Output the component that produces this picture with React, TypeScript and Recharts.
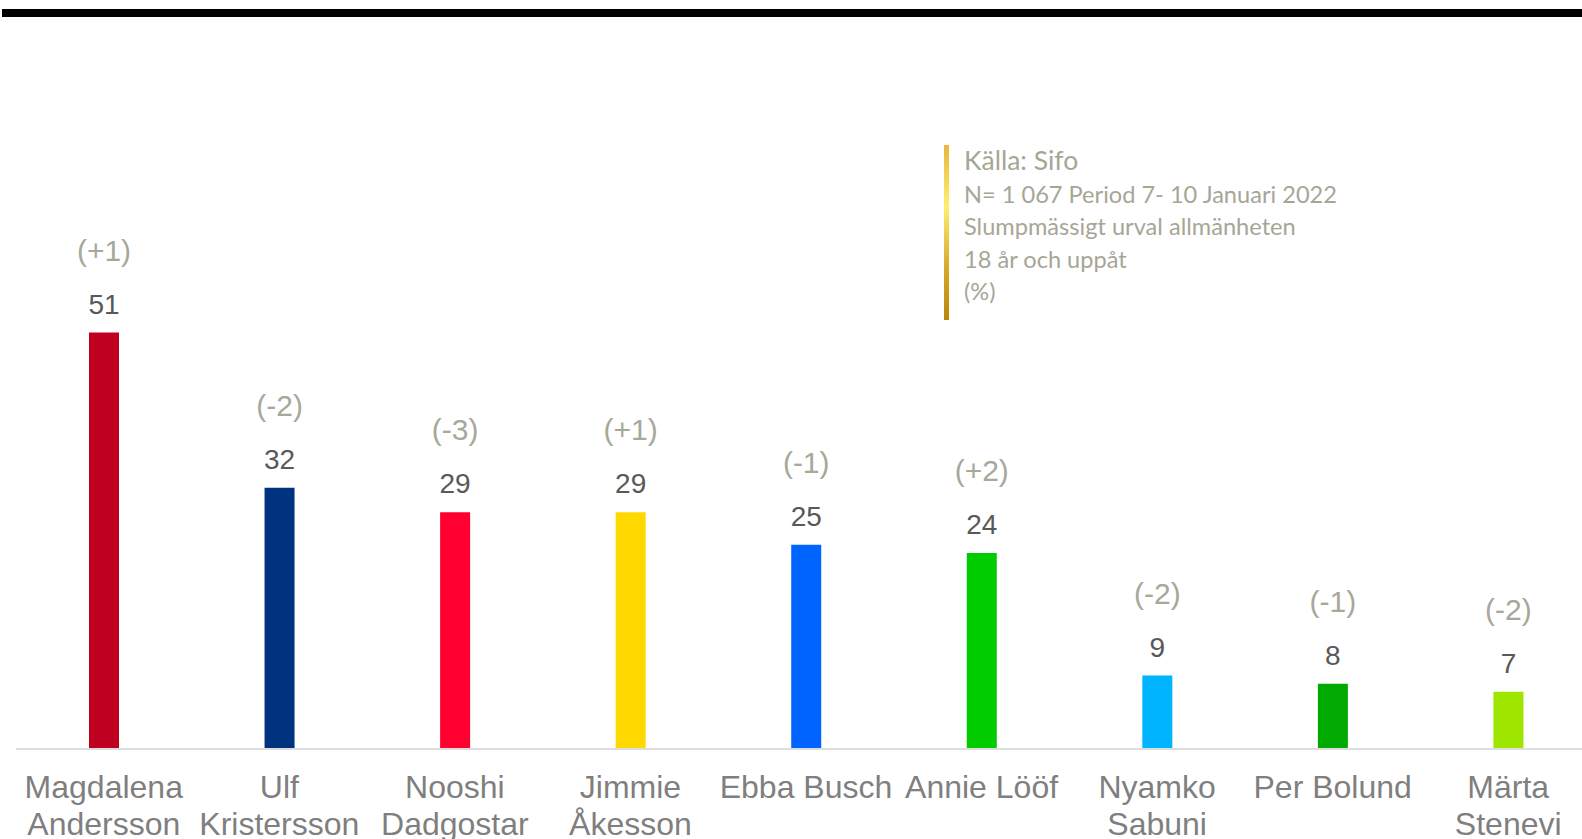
import React from 'react';
import { BarChart, Bar, XAxis, YAxis, Cell, LabelList } from 'recharts';

const names = [
  'Magdalena\nAndersson',
  'Ulf\nKristersson',
  'Nooshi\nDadgostar',
  'Jimmie\nÅkesson',
  'Ebba Busch',
  'Annie Lööf',
  'Nyamko\nSabuni',
  'Per Bolund',
  'Märta\nStenevi',
];
const confidence = [51, 32, 29, 29, 25, 24, 9, 8, 7];
const changes = ['(+1)', '(-2)', '(-3)', '(+1)', '(-1)', '(+2)', '(-2)', '(-1)', '(-2)'];
const colors = ['#C00020', '#00337F', '#FF0030', '#FFD800', '#0064FF', '#00CC00', '#00B4FF', '#00AA00', '#9EE600'];

const sourceLines = [
  'N= 1 067 Period 7- 10 Januari 2022',
  'Slumpmässigt urval allmänheten',
  '18 år och uppåt',
  '(%)',
];

const data = names.map((name, i) => ({ name, value: confidence[i], change: changes[i] }));

const ARIAL = '"Liberation Sans", Arial, sans-serif';

const NameTick = (props: any) => {
  const { x, y, payload } = props;
  const lines = String(payload.value).split('\n');
  return (
    <text x={x} y={y} textAnchor="middle" fill="#7F7F7F" fontFamily={ARIAL} fontSize={32}>
      {lines.map((l, i) => (
        <tspan key={i} x={x} y={y + 49 + i * 36.5}>
          {l}
        </tspan>
      ))}
    </text>
  );
};

const ValueLabel = (props: any) => {
  const { x, y, width, value } = props;
  return (
    <text x={x + width / 2} y={y - 19} textAnchor="middle" fill="#595959" fontFamily={ARIAL} fontSize={28}>
      {value}
    </text>
  );
};

const ChangeLabel = (props: any) => {
  const { x, y, width, value } = props;
  return (
    <text x={x + width / 2} y={y - 72} textAnchor="middle" fill="#A6A899" fontFamily={ARIAL} fontSize={30}>
      {value}
    </text>
  );
};

export default function App() {
  return (
    <div style={{ position: 'fixed', left: 0, top: 0, width: 1582, height: 839, overflow: 'hidden', background: '#fff' }}>
      <div style={{ position: 'absolute', left: 2, top: 9, width: 1580, height: 8, background: '#000' }} />
      <div style={{ position: 'absolute', left: 0, top: 0 }}>
        <BarChart width={1620} height={839} data={data} margin={{ top: 259, right: 24, left: 16, bottom: 0 }}>
          <XAxis
            dataKey="name"
            interval={0}
            tickLine={false}
            tickSize={0}
            tickMargin={0}
            height={90}
            axisLine={{ stroke: '#DDDDDD', strokeWidth: 2 }}
            tick={<NameTick />}
          />
          <YAxis hide domain={[0, 60]} />
          <Bar dataKey="value" barSize={30} isAnimationActive={false}>
            {data.map((d, i) => (
              <Cell key={d.name} fill={colors[i]} />
            ))}
            <LabelList dataKey="value" content={<ValueLabel />} />
            <LabelList dataKey="change" content={<ChangeLabel />} />
          </Bar>
        </BarChart>
      </div>
      <div
        style={{
          position: 'absolute',
          left: 944,
          top: 145,
          width: 5,
          height: 175,
          background: 'linear-gradient(to bottom, #E9B53C 0%, #FFEE70 35%, #D9A82A 70%, #B8860B 100%)',
        }}
      />
      <div
        style={{
          position: 'absolute',
          left: 964,
          top: 142,
          fontFamily: 'Lato, "Open Sans", sans-serif',
          color: '#A6A696',
          whiteSpace: 'nowrap',
        }}
      >
        <div style={{ fontSize: 26.5, lineHeight: '36px' }}>Källa: Sifo</div>
        {sourceLines.map((l) => (
          <div key={l} style={{ fontSize: 23.6, lineHeight: '32.4px' }}>
            {l}
          </div>
        ))}
      </div>
    </div>
  );
}
